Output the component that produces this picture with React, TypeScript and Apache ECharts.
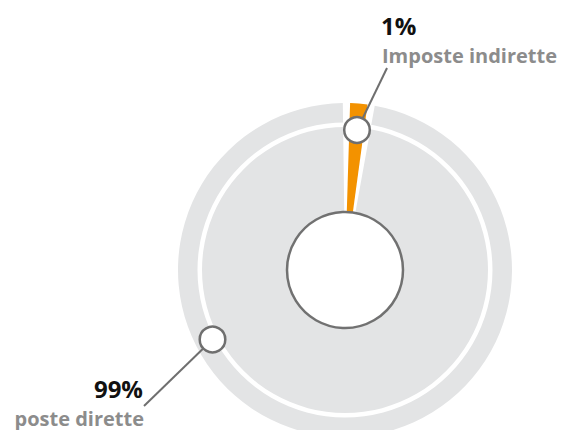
import React, { useEffect, useRef } from "react";
import * as echarts from "echarts";

const categories = ["Imposte indirette", "poste dirette"];
const values = [1, 99];
const colors = ["#f39200", "#e3e4e5"];

export default function App() {
  const ref = useRef<HTMLDivElement>(null);
  useEffect(() => {
    document.body.style.margin = "0";
    const chart = echarts.init(ref.current!, null, { renderer: "svg" });
    const total = values.reduce((a, b) => a + b, 0);
    const pct = values.map((v) => `${Math.round((v / total) * 100)}%`);
    const lineColor = "#6f6f6f";
    const font = (size: number) => `bold ${size}px "Open Sans", sans-serif`;
    chart.setOption({
      animation: false,
      series: [
        {
          type: "pie",
          center: [345, 270],
          radius: [0, 167],
          startAngle: 89.5,
          clockwise: true,
          minAngle: 6,
          padAngle: 2.5,
          silent: true,
          label: { show: false },
          labelLine: { show: false },
          data: categories.map((c, i) => ({
            name: c,
            value: values[i],
            itemStyle: { color: colors[i] },
          })),
        },
        {
          type: "pie",
          center: [345, 270],
          radius: [143, 147.5],
          silent: true,
          z: 3,
          label: { show: false },
          labelLine: { show: false },
          data: [{ name: "ring", value: 1, itemStyle: { color: "#ffffff" } }],
        },
      ],
      graphic: [
        {
          type: "circle",
          z: 100,
          shape: { cx: 345, cy: 270, r: 58 },
          style: { fill: "#ffffff", stroke: "#717171", lineWidth: 2.5 },
        },
        {
          type: "line",
          z: 100,
          shape: { x1: 357, y1: 130, x2: 387, y2: 68 },
          style: { stroke: lineColor, lineWidth: 2 },
        },
        {
          type: "line",
          z: 100,
          shape: { x1: 212.5, y1: 339.5, x2: 144, y2: 406 },
          style: { stroke: lineColor, lineWidth: 2 },
        },
        {
          type: "circle",
          z: 101,
          shape: { cx: 357, cy: 130, r: 12.8 },
          style: { fill: "#ffffff", stroke: lineColor, lineWidth: 2.5 },
        },
        {
          type: "circle",
          z: 101,
          shape: { cx: 212.5, cy: 339.5, r: 12.8 },
          style: { fill: "#ffffff", stroke: lineColor, lineWidth: 2.5 },
        },
        {
          type: "text",
          z: 102,
          x: 381,
          y: 25,
          style: { text: pct[0], fill: "#111111", font: font(24), align: "left", verticalAlign: "middle" },
        },
        {
          type: "text",
          z: 102,
          x: 382,
          y: 55,
          style: { text: categories[0], fill: "#8c8c8c", font: font(20), align: "left", verticalAlign: "middle" },
        },
        {
          type: "text",
          z: 102,
          x: 143,
          y: 388,
          style: { text: pct[1], fill: "#111111", font: font(24), align: "right", verticalAlign: "middle" },
        },
        {
          type: "text",
          z: 102,
          x: 144,
          y: 418,
          style: { text: categories[1], fill: "#8c8c8c", font: font(20), align: "right", verticalAlign: "middle" },
        },
      ],
    });
    return () => chart.dispose();
  }, []);
  return <div ref={ref} style={{ width: 563, height: 430 }} />;
}
